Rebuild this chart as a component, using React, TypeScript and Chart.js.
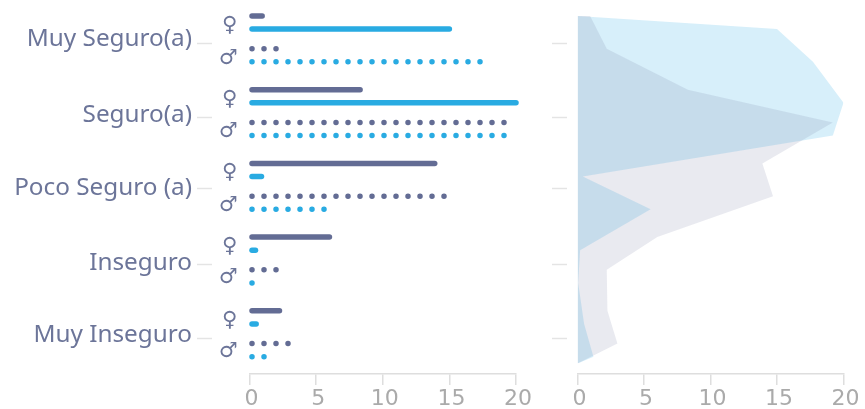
import React, { useEffect, useRef } from "react";
import { Chart, registerables } from "chart.js";

Chart.register(...registerables);

const categories = ["Muy Seguro(a)", "Seguro(a)", "Poco Seguro (a)", "Inseguro", "Muy Inseguro"];
const genderSymbols = ["♀", "♂", "♀", "♂", "♀", "♂", "♀", "♂", "♀", "♂"];
const xTicks = [0, 5, 10, 15, 20];

// series values, per category
const femaleSlate = [0.95, 8.3, 13.9, 6.0, 2.25];
const femaleCyan = [15.0, 20.0, 0.9, 0.45, 0.5];
const maleSlate = [2.2, 19.2, 14.7, 2.2, 3.0];
const maleCyan = [17.6, 19.2, 5.6, 0.2, 1.2];
// the area panel reads a little lower than the bars for two of the points
const femaleCyanArea = [15.0, 20.0, 0.4, 0.2, 0.5];
const maleCyanArea = [17.7, 19.2, 5.5, 0.05, 1.2];

// vertical rows of the shared band axis
const rowsFemaleSlate = [0, 18, 36, 54, 72];
const rowsFemaleCyan = [3.2, 21.2, 39.2, 57.2, 75.2];
const rowsMaleSlate = [8, 26, 44, 62, 80];
const rowsMaleCyan = [11.2, 29.2, 47.2, 65.2, 83.2];
const rowAreaStart = 0;
const rowAreaEnd = 84.9;
const rowsCategoryLabel = [5.65, 24.25, 42.05, 60.25, 78.05];
const rowsCategoryMark = [6.6, 24.7, 42.2, 60.6, 78.7];
const rowsGender = [2.4, 10.4, 20.3, 28.2, 38.3, 46.2, 56.3, 63.9, 74.3, 81.9];

const SLATE = "#636c94";
const CYAN = "#29abe2";
const SLATE_FILL = "rgba(99,108,148,0.14)";
const CYAN_FILL = "rgba(41,171,226,0.19)";
const LABEL = "#6c7599";
const TICK_TEXT = "#aaaaaa";
const AXIS_LINE = "#dedede";
const ROW_MIN = -1.954;
const ROW_MAX = 87.44;

function fixedTicks(values: number[]) {
  return (axis: any) => {
    axis.ticks = values.map((value) => ({ value }));
  };
}

function fixWidth(w: number) {
  return (axis: any) => {
    axis.width = w;
    axis.paddingTop = 0;
    axis.paddingBottom = 0;
  };
}

function xAxis() {
  return {
    type: "linear",
    position: "bottom",
    min: 0,
    max: 20,
    afterBuildTicks: fixedTicks(xTicks),
    afterFit: (axis: any) => {
      axis.height = 35;
      axis.paddingLeft = 0;
      axis.paddingRight = 0;
    },
    border: { display: true, color: AXIS_LINE, width: 1.5 },
    grid: { drawOnChartArea: false, drawTicks: true, tickLength: 11, color: AXIS_LINE, lineWidth: 1.5 },
    ticks: {
      color: TICK_TEXT,
      padding: 1,
      labelOffset: 2,
      autoSkip: false,
      maxRotation: 0,
      font: { family: "DejaVu Sans", size: 22 },
    },
  };
}

function rowAxis(width: number, weight: number, extra: any) {
  return {
    type: "linear",
    position: "left",
    reverse: true,
    min: ROW_MIN,
    max: ROW_MAX,
    weight,
    afterFit: fixWidth(width),
    border: { display: false },
    ...extra,
  };
}

function marksAxis(weight: number) {
  return rowAxis(15, weight, {
    afterBuildTicks: fixedTicks(rowsCategoryMark),
    grid: { drawOnChartArea: false, drawTicks: true, tickLength: 15, tickColor: "#e4e4e4", tickWidth: 1.5 },
    ticks: { callback: () => "", autoSkip: false, padding: 0 },
  });
}

function barRow(value: number, row: number, color: string, dotted: boolean) {
  return {
    data: [
      { x: 0, y: row },
      { x: value, y: row },
    ],
    clip: false,
    borderColor: color,
    borderWidth: 5.5,
    borderCapStyle: "round",
    borderDash: dotted ? [0.01, 11.99] : [9999, 9999],
    borderDashOffset: -2.5,
    pointRadius: 0,
    fill: false,
  };
}

function areaPoints(points: { x: number; y: number }[], color: string) {
  return {
    data: points,
    indexAxis: "y",
    borderWidth: 0,
    borderColor: "transparent",
    backgroundColor: color,
    pointRadius: 0,
    fill: { value: 0 },
    tension: 0,
  };
}

function zip(values: number[], rows: number[]) {
  return values.map((x, i) => ({ x, y: rows[i] }));
}

function interleave<T>(a: T[], b: T[]) {
  return a.flatMap((v, i) => [v, b[i]]);
}

export default function App() {
  const leftRef = useRef<HTMLCanvasElement>(null);
  const rightRef = useRef<HTMLCanvasElement>(null);

  useEffect(() => {
    const left = new Chart(leftRef.current!, {
      type: "line",
      data: {
        datasets: categories.flatMap((_, i) => [
          barRow(femaleSlate[i], rowsFemaleSlate[i], SLATE, false),
          barRow(femaleCyan[i], rowsFemaleCyan[i], CYAN, false),
          barRow(maleSlate[i], rowsMaleSlate[i], SLATE, true),
          barRow(maleCyan[i], rowsMaleCyan[i], CYAN, true),
        ]),
      } as any,
      options: {
        animation: false,
        responsive: false,
        parsing: false,
        normalized: true,
        layout: { padding: { left: 0, right: 24, top: 8, bottom: 0 } },
        plugins: { legend: { display: false }, tooltip: { enabled: false } },
        scales: {
          x: xAxis(),
          y: rowAxis(37.5, 1, {
            afterBuildTicks: fixedTicks(rowsGender),
            grid: { display: false, drawTicks: false },
            ticks: {
              color: LABEL,
              padding: 12,
              autoSkip: false,
              font: { family: "DejaVu Sans", size: 21 },
              callback: (_: any, i: number) => genderSymbols[i],
            },
          }),
          yMarks: marksAxis(2),
          yLabels: rowAxis(197, 3, {
            afterBuildTicks: fixedTicks(rowsCategoryLabel),
            grid: { display: false, drawTicks: false },
            ticks: {
              color: LABEL,
              padding: 5,
              autoSkip: false,
              font: { family: "Noto Sans", size: 24.3 },
              callback: (_: any, i: number) => categories[i],
            },
          }),
        },
      } as any,
    });

    const right = new Chart(rightRef.current!, {
      type: "line",
      data: {
        datasets: [
          areaPoints(
            [
              ...zip(interleave(femaleSlate, maleSlate), interleave(rowsFemaleSlate, rowsMaleSlate)),
              { x: 0, y: rowAreaEnd },
            ],
            SLATE_FILL
          ),
          areaPoints(
            [
              { x: 0, y: rowAreaStart },
              ...zip(interleave(femaleCyanArea, maleCyanArea), interleave(rowsFemaleCyan, rowsMaleCyan)),
              { x: 0, y: rowAreaEnd },
            ],
            CYAN_FILL
          ),
        ],
      } as any,
      options: {
        animation: false,
        responsive: false,
        layout: { padding: { left: 12, right: 21.5, top: 8, bottom: 0 } },
        plugins: { legend: { display: false }, tooltip: { enabled: false } },
        scales: {
          x: xAxis(),
          y: rowAxis(10.5, 1, {
            grid: { display: false, drawTicks: false },
            ticks: { display: false },
          }),
          yMarks: marksAxis(2),
        },
      } as any,
    });

    return () => {
      left.destroy();
      right.destroy();
    };
  }, []);

  return (
    <div style={{ position: "absolute", left: 0, top: 0, width: 865, height: 409, background: "#fff", overflow: "hidden" }}>
      <canvas ref={leftRef} width={540} height={409} style={{ position: "absolute", left: 0, top: 0 }} />
      <canvas ref={rightRef} width={325} height={409} style={{ position: "absolute", left: 540, top: 0 }} />
    </div>
  );
}
